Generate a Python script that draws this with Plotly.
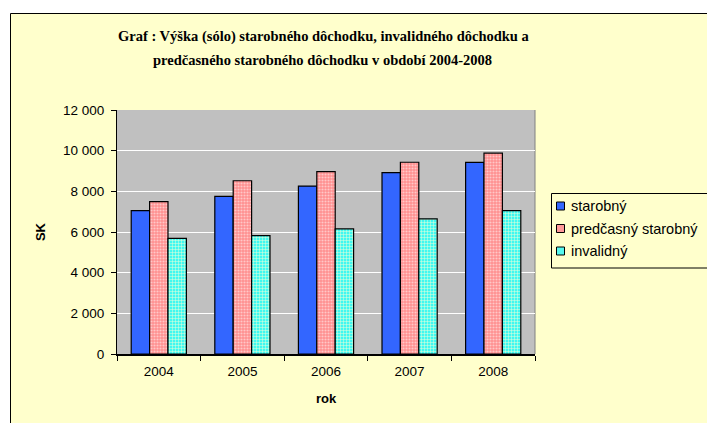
import plotly.graph_objects as go

years = ["2004", "2005", "2006", "2007", "2008"]
starobny = [7050, 7750, 8260, 8920, 9420]
predcasny = [7490, 8520, 8970, 9430, 9880]
invalidny = [5690, 5820, 6150, 6650, 7050]
series_names = ["starobný", "predčasný starobný", "invalidný"]
series_colors = ["#3366FF", "#FF9999", "#55F8EE"]

W, H = 707, 423
# plot area in page pixels
PL, PR, PT, PB = 117, 535, 110, 354
pw, ph = PR - PL, PB - PT
L, R, T, B = PL, W - PR, PT, H - PB

def px(x):
    return (x - PL) / pw

def py(y):
    return (PB - y) / ph

fig = go.Figure()
fig.add_trace(go.Bar(
    x=years, y=starobny, name=series_names[0],
    marker=dict(color=series_colors[0], line=dict(color="#000000", width=1.2)),
))
fig.add_trace(go.Bar(
    x=years, y=predcasny, name=series_names[1],
    marker=dict(color=series_colors[1], line=dict(color="#000000", width=1.2),
                pattern=dict(shape=".", bgcolor="#FF8F8F", fgcolor="#FFC8C8",
                             size=3, solidity=0.4, fillmode="replace")),
))
fig.add_trace(go.Bar(
    x=years, y=invalidny, name=series_names[2],
    marker=dict(color=series_colors[2], line=dict(color="#000000", width=1.2),
                pattern=dict(shape="+", bgcolor="#40F8F0", fgcolor="#E8FFD8",
                             size=3, solidity=0.3, fillmode="replace")),
))

shapes = [
    dict(type="rect", xref="paper", yref="paper", layer="below",
         x0=px(10.5), x1=px(740), y0=py(440), y1=py(13.5),
         fillcolor="#FFFFCC", line=dict(color="#000000", width=1)),
    dict(type="rect", xref="paper", yref="paper", layer="below",
         x0=0, x1=1, y0=0, y1=1,
         fillcolor="#C0C0C0", line=dict(width=0)),
    dict(type="line", xref="paper", yref="paper", layer="below",
         x0=1, x1=1, y0=0, y1=1,
         line=dict(color="#808080", width=1)),
    # legend box
    dict(type="rect", xref="paper", yref="paper",
         x0=px(551.5), x1=px(740), y0=py(268), y1=py(193.5),
         fillcolor="rgba(0,0,0,0)", line=dict(color="#000000", width=1)),
]
annotations = [
    dict(text="<b>Graf : Výška (sólo) starobného dôchodku, invalidného dôchodku a</b>",
         xref="paper", yref="paper", x=px(324), y=py(37), showarrow=False,
         xanchor="center", yanchor="middle",
         font=dict(family="Liberation Serif, Times New Roman", size=14.5)),
    dict(text="<b>predčasného starobného dôchodku v období 2004-2008</b>",
         xref="paper", yref="paper", x=px(322), y=py(60), showarrow=False,
         xanchor="center", yanchor="middle",
         font=dict(family="Liberation Serif, Times New Roman", size=14.5)),
]
row_y = [206, 228.5, 251]
for name, col, yy in zip(series_names, series_colors, row_y):
    shapes.append(dict(type="rect", xref="paper", yref="paper",
                       x0=px(556.5), x1=px(564.5), y0=py(yy + 4), y1=py(yy - 4),
                       fillcolor=col, line=dict(color="#000000", width=1)))
    annotations.append(dict(text=name, xref="paper", yref="paper",
                            x=px(569), y=py(yy), showarrow=False,
                            xanchor="left", yanchor="middle",
                            font=dict(family="Liberation Sans, Arial", size=14.5)))

fig.update_layout(
    width=W, height=H,
    margin=dict(l=L, r=R, t=T, b=B, autoexpand=False),
    paper_bgcolor="#FFFFFF",
    plot_bgcolor="#C0C0C0",
    barmode="group",
    bargap=0.34,
    bargroupgap=0,
    separators=". ",
    font=dict(family="Liberation Sans, Arial", size=12, color="#000000"),
    showlegend=False,
    shapes=shapes,
    annotations=annotations,
)

fig.update_yaxes(
    range=[0, 12000], dtick=2000, tickformat=",d",
    showgrid=True, gridcolor="#FFFFFF", gridwidth=1,
    showline=True, linecolor="#000000", linewidth=1,
    ticks="outside", ticklen=5, tickcolor="#000000",
    ticklabelstandoff=4,
    zeroline=False,
    tickfont=dict(size=13.5),
    title=dict(text="<b>SK</b>", font=dict(size=13), standoff=14),
)
fig.update_xaxes(
    type="category",
    showline=True, linecolor="#000000", linewidth=1.5,
    ticks="outside", ticklen=5, tickcolor="#000000", tickson="boundaries",
    ticklabelstandoff=4,
    tickfont=dict(size=13.5),
    title=dict(text="<b>rok</b>", font=dict(size=13), standoff=16),
)

fig.write_html(
    "out.html",
    config={"displayModeBar": False},
    post_script="document.body.style.margin='0';document.body.style.overflow='hidden';",
)
